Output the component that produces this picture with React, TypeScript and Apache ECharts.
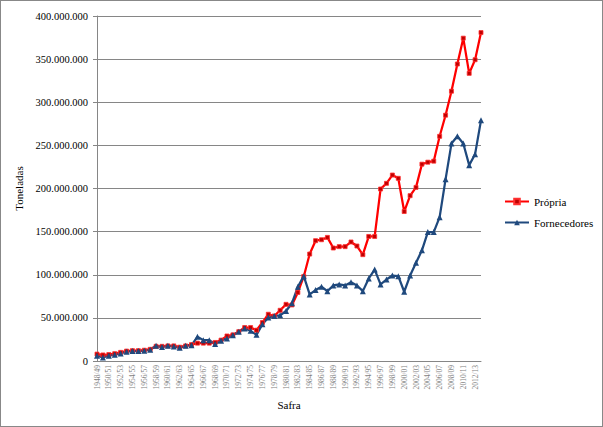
import React, { useEffect, useRef } from "react";
import * as echarts from "echarts";

const startYears: number[] = [];
for (let y = 1948; y <= 2013; y++) startYears.push(y);
const categories = startYears.map((y) => `${y}/${String((y + 1) % 100).padStart(2, "0")}`);

// values in millions of tonnes
const propria = [
  8, 7, 7.5, 8.5, 10, 11.5, 12, 12, 12.5, 13.5,
  17, 17, 17.5, 17.5, 16, 17.5, 19, 20.7, 20.7, 20.7,
  21.5, 24.2, 29, 30.3, 34, 38.8, 38.8, 35.7, 44.6, 54.2,
  52.2, 58.8, 65.7, 65, 79.5, 98, 124, 139.5, 140.6, 143.3,
  131, 132.6, 132.6, 138, 133.3, 123.3, 144.4, 144.4, 199.4, 206,
  215.6, 211.8, 173.3, 191.7, 201.3, 228.2, 230.5, 231.7, 260.5, 285,
  312.8, 344.3, 374.3, 333.5, 349.3, 380.8,
];

const fornecedores = [
  6.2, 4.2, 6.2, 7.3, 8.8, 10.8, 11.5, 11.5, 12, 13.1,
  17.7, 16.2, 17.7, 16.9, 15.4, 17.7, 18.4, 28, 24.2, 24.2,
  19.6, 23.4, 26.2, 30, 33.8, 37.7, 35, 30.3, 42.7, 50.3,
  52.2, 53, 58, 67, 86, 98.4, 77.2, 82.2, 86.1, 81,
  87.6, 88.8, 87.6, 91.4, 87.6, 81, 95.7, 106, 88.8, 94.5,
  99.1, 98.4, 80.3, 99.1, 113.8, 128.3, 149.5, 149.5, 166.8, 210.6,
  252.1, 260.5, 252.1, 227.1, 239.8, 279,
];

const seriesNames = ["Própria", "Fornecedores"];

const fmt = (v: number) => {
  const s = Math.round(v).toString();
  return s.replace(/\B(?=(\d{3})+(?!\d))/g, ".");
};

export default function App() {
  const ref = useRef<HTMLDivElement>(null);
  useEffect(() => {
    if (!ref.current) return;
    const chart = echarts.init(ref.current, undefined, { renderer: "svg" });
    const font = '"Liberation Serif", "Times New Roman", serif';
    chart.setOption({
      animation: false,
      backgroundColor: "#ffffff",
      textStyle: { fontFamily: font },
      grid: { left: 96, top: 15, right: 121, bottom: 65 },
      legend: {
        orient: "vertical",
        left: 498,
        top: 190,
        itemWidth: 24,
        itemHeight: 7,
        itemGap: 10,
        textStyle: { fontFamily: font, fontSize: 11, color: "#000" },
        data: seriesNames,
      },
      xAxis: {
        type: "category",
        data: categories,
        boundaryGap: false,
        name: "Safra",
        nameLocation: "middle",
        nameGap: 38,
        nameTextStyle: { fontFamily: font, fontSize: 11, color: "#000" },
        axisLine: { lineStyle: { color: "#868686" } },
        axisTick: { show: false },
        axisLabel: {
          rotate: 90,
          interval: 1,
          fontSize: 7.5,
          fontFamily: font,
          color: "#7f7f7f",
          margin: 4,
        },
      },
      yAxis: {
        type: "value",
        min: 0,
        max: 400000000,
        interval: 50000000,
        name: "Toneladas",
        nameLocation: "middle",
        nameRotate: 90,
        nameGap: 68,
        nameTextStyle: { fontFamily: font, fontSize: 11, color: "#000" },
        axisLine: { show: true, lineStyle: { color: "#868686" } },
        axisTick: { show: true, length: 4, lineStyle: { color: "#868686" } },
        splitLine: { lineStyle: { color: "#868686" } },
        axisLabel: {
          fontSize: 10.5,
          fontFamily: font,
          color: "#000",
          margin: 9,
          formatter: (v: number) => fmt(v),
        },
      },
      series: [
        {
          name: seriesNames[0],
          type: "line",
          data: propria.map((v) => v * 1e6),
          symbol: "rect",
          symbolSize: 4,
          showAllSymbol: true,
          lineStyle: { color: "#FF0000", width: 2.25 },
          itemStyle: { color: "#C00000", borderColor: "#FF3030", borderWidth: 0.8 },
          color: "#FF0000",
        },
        {
          name: seriesNames[1],
          type: "line",
          data: fornecedores.map((v) => v * 1e6),
          symbol: "triangle",
          symbolSize: 6,
          showAllSymbol: true,
          lineStyle: { color: "#1F497D", width: 2.25 },
          itemStyle: { color: "#1F497D" },
          color: "#1F497D",
        },
      ],
    });
    return () => chart.dispose();
  }, []);
  return (
    <div
      ref={ref}
      style={{
        position: "absolute",
        left: 0,
        top: 0,
        width: 603,
        height: 427,
        boxSizing: "border-box",
        border: "1px solid #888",
      }}
    />
  );
}
